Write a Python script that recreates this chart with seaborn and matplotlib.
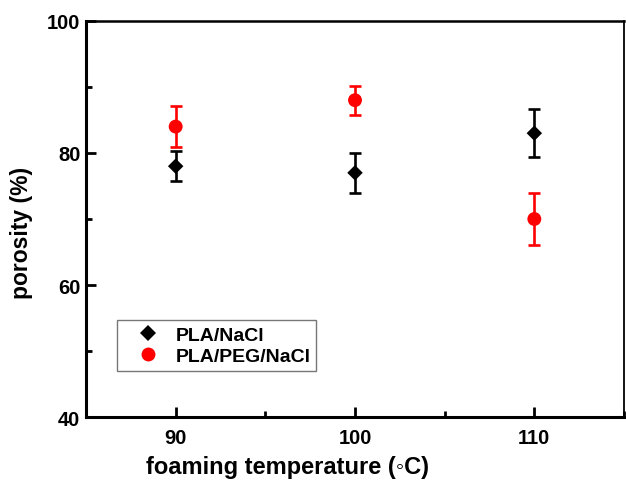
import matplotlib
matplotlib.use("Agg")
import matplotlib.pyplot as plt
import seaborn as sns
import pandas as pd
from matplotlib.ticker import MultipleLocator
from matplotlib.lines import Line2D

temps = [90, 100, 110]
pla_nacl = [78.0, 77.0, 83.0]
pla_nacl_err = [2.3, 3.0, 3.6]
pla_peg_nacl = [84.0, 88.0, 70.0]
pla_peg_nacl_err = [3.1, 2.2, 4.0]
series_names = ["PLA/NaCl", "PLA/PEG/NaCl"]

sns.set_theme(style="white")
plt.rcParams["font.family"] = ["Liberation Sans", "DejaVu Sans"]
plt.rcParams["font.weight"] = "bold"
for key in ["text.color", "axes.labelcolor", "xtick.color", "ytick.color"]:
    plt.rcParams[key] = "black"

df = pd.DataFrame({
    "temp": temps * 2,
    "porosity": pla_nacl + pla_peg_nacl,
    "err": pla_nacl_err + pla_peg_nacl_err,
    "series": [series_names[0]] * 3 + [series_names[1]] * 3,
})

fig = plt.figure(figsize=(6.26, 4.85), dpi=100)
ax = fig.add_axes([86 / 626, 1 - 418 / 485, 538 / 626, 396 / 485])

colors = {series_names[0]: "black", series_names[1]: "red"}
markers = {series_names[0]: "D", series_names[1]: "o"}
sizes = {series_names[0]: 62, series_names[1]: 100}

for name in series_names:
    sub = df[df["series"] == name]
    ax.errorbar(sub["temp"], sub["porosity"], yerr=sub["err"], fmt="none",
                ecolor=colors[name], elinewidth=1.9, capsize=4, capthick=1.9, zorder=2)

sns.scatterplot(data=df, x="temp", y="porosity", hue="series", style="series",
                size="series", sizes=sizes, palette=colors, markers=markers,
                edgecolor="none", ax=ax, zorder=3, legend=False)

handles = [Line2D([], [], linestyle="none", marker=markers[n], color=colors[n],
                  markersize=(sizes[n] ** 0.5), markeredgewidth=0) for n in series_names]
leg = ax.legend(handles, series_names, loc="lower left", bbox_to_anchor=(0.0576, 0.116),
                borderaxespad=0, frameon=True, fancybox=False, edgecolor="#555555",
                fontsize=14, handletextpad=0.1, borderpad=0.3, labelspacing=0.2,
                handlelength=2.6)
leg.get_frame().set_linewidth(1.0)
for t in leg.get_texts():
    t.set_fontweight("bold")

ax.set_xlim(85, 115)
ax.set_ylim(40, 100)
ax.xaxis.set_major_locator(MultipleLocator(10))
ax.xaxis.set_minor_locator(MultipleLocator(5))
ax.yaxis.set_major_locator(MultipleLocator(20))
ax.yaxis.set_minor_locator(MultipleLocator(10))
ax.tick_params(axis="both", which="major", direction="in", length=7, width=2,
               labelsize=14.5, color="black", bottom=True, left=True,
               top=False, right=False)
ax.tick_params(axis="x", which="major", pad=8)
ax.tick_params(axis="y", which="major", pad=4)
ax.tick_params(axis="both", which="minor", direction="in", length=4, width=2,
               color="black", bottom=True, left=True, top=False, right=False)
for lab in ax.get_xticklabels() + ax.get_yticklabels():
    lab.set_fontweight("bold")

for sp in ax.spines.values():
    sp.set_visible(True)
    sp.set_color("black")
    sp.set_linewidth(2.2)
ax.spines["top"].set_linewidth(1.8)
ax.spines["right"].set_linewidth(1.3)

ax.set_xlabel("foaming temperature (\u25e6C)", fontsize=17, fontweight="bold")
ax.set_ylabel("porosity (%)", fontsize=16.5, fontweight="bold")
ax.xaxis.set_label_coords(0.375, -0.095)
ax.yaxis.set_label_coords(-0.099, 0.467)

fig.savefig("out.png", dpi=100, facecolor="white")
